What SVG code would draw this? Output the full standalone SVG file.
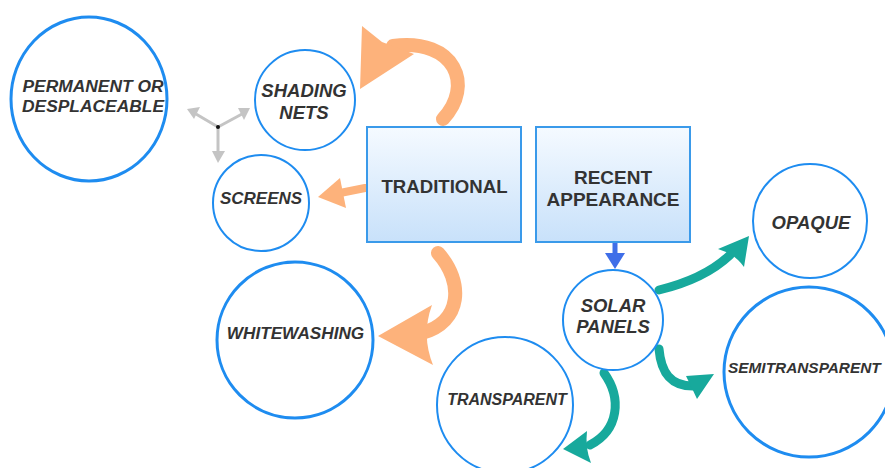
<svg xmlns="http://www.w3.org/2000/svg" width="885" height="468" viewBox="0 0 885 468">
<defs>
<linearGradient id="boxg" x1="0" y1="0" x2="0" y2="1">
<stop offset="0" stop-color="#f5faff"/>
<stop offset="1" stop-color="#c8e1fa"/>
</linearGradient>
<style>
.c{fill:#fff;stroke:#1e8cf0;stroke-width:2}
.cb{fill:#fff;stroke:#1e8cf0;stroke-width:3}
.box{fill:url(#boxg);stroke:#3a9aea;stroke-width:2}
.t{font-family:"Liberation Sans",Arial,sans-serif;font-weight:bold;font-style:italic;fill:#333;text-anchor:middle}
.bt{font-family:"Liberation Sans",Arial,sans-serif;font-weight:bold;fill:#333;text-anchor:middle}
.or{fill:none;stroke:#fdb27b;stroke-linecap:round}
.orf{fill:#fdb27b}
.te{fill:none;stroke:#17a99c;stroke-width:9;stroke-linecap:round}
.tef{fill:#17a99c}
.gr{stroke:#c4c4c4;stroke-width:3;fill:none}
.grf{fill:#c4c4c4}
</style>
</defs>
<rect width="885" height="468" fill="#fff"/>
<g id="connectors">
<path class="or" stroke-width="14" d="M443,119 C474,86 456,38 393,46"/>
<path class="orf" d="M362,26 L382,42 L414,54 L360,89 Z"/>
<path class="or" stroke-width="8" d="M365,188 L340,193"/>
<path class="orf" d="M318,197 L340,178 L346,208 Z"/>
<path class="or" stroke-width="14" d="M438,253 C464,282 462,322 422,333"/>
<path class="orf" d="M432,305 L378,336 L433,365 Q421,335 432,305 Z"/>
<line x1="615" y1="243" x2="615" y2="256" stroke="#3f6ee8" stroke-width="5"/>
<path d="M605,253 L625,253 L615,269 Z" fill="#3f6ee8"/>
<path class="te" d="M659,290 C688,283 712,272 730,255"/>
<path class="tef" d="M749,236 L718,249 Q735,254 744,267 Z"/>
<path class="te" d="M659,349 C661,372 670,386 693,386"/>
<path class="tef" d="M714,374 L686,376 Q692,388 697,399 Z"/>
<path class="te" d="M604,373 C622,398 619,430 590,445"/>
<path class="tef" d="M563,449 L587,431 Q585,448 591,463 Z"/>
<line class="gr" x1="218" y1="127" x2="196" y2="114"/>
<path class="grf" d="M187,109 L200,107 L194,119 Z"/>
<line class="gr" x1="218" y1="127" x2="242" y2="114"/>
<path class="grf" d="M250,108 L244,120 L238,108 Z"/>
<line class="gr" x1="218" y1="127" x2="218" y2="152"/>
<path class="grf" d="M212,151 L225,151 L218,163 Z"/>
<circle cx="218" cy="127" r="2" fill="#111"/>
</g>
<g id="permanent">
<ellipse class="cb" cx="89" cy="99" rx="78" ry="82"/>
<text class="t" font-size="17.4" x="93" y="92">PERMANENT OR</text>
<text class="t" font-size="17.4" x="93" y="112">DESPLACEABLE</text>
</g>
<g id="shading">
<circle class="c" cx="305" cy="100" r="50"/>
<text class="t" font-size="18.5" x="304" y="97">SHADING</text>
<text class="t" font-size="18.5" x="304" y="119">NETS</text>
</g>
<g id="screens">
<circle class="c" cx="261" cy="203" r="48"/>
<text class="t" font-size="17" x="261" y="204">SCREENS</text>
</g>
<g id="whitewashing">
<circle class="cb" cx="295" cy="340" r="78"/>
<text class="t" font-size="17.2" x="295.5" y="339">WHITEWASHING</text>
</g>
<g id="traditional">
<rect class="box" x="367" y="127" width="154" height="115"/>
<text class="bt" font-size="18.6" x="444.5" y="193">TRADITIONAL</text>
</g>
<g id="recent">
<rect class="box" x="536" y="127" width="154" height="115"/>
<text class="bt" font-size="19" x="613" y="184">RECENT</text>
<text class="bt" font-size="19" x="613" y="206">APPEARANCE</text>
</g>
<g id="solar">
<circle class="c" cx="613" cy="320" r="50"/>
<text class="t" font-size="18.5" x="613" y="312">SOLAR</text>
<text class="t" font-size="18.5" x="613" y="333">PANELS</text>
</g>
<g id="transparent">
<circle class="c" cx="505" cy="405" r="68"/>
<text class="t" font-size="16" x="507" y="405">TRANSPARENT</text>
</g>
<g id="opaque">
<circle class="c" cx="810" cy="221" r="57"/>
<text class="t" font-size="18.5" x="811" y="229">OPAQUE</text>
</g>
<g id="semitransparent">
<circle class="cb" cx="809" cy="372" r="85"/>
<text class="t" font-size="15.4" x="728" y="373" style="text-anchor:start">SEMITRANSPARENT</text>
</g>
</svg>
